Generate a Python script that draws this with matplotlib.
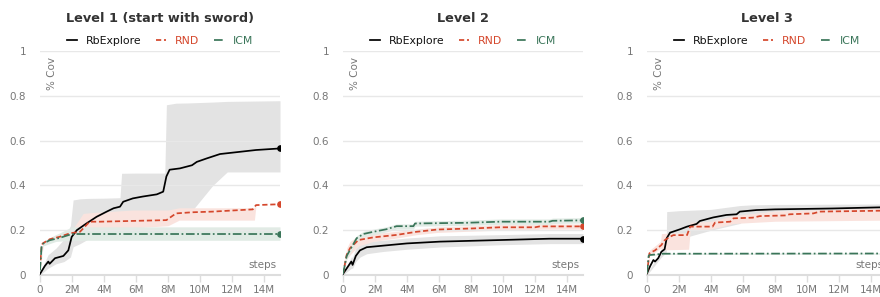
import numpy as np
import matplotlib; matplotlib.use("Agg"); import matplotlib.pyplot as plt
from matplotlib.ticker import FuncFormatter

# ---- data (x in millions of steps, y = fraction covered) ----
TITLES = ["Level 1 (start with sword)", "Level 2", "Level 3"]
XTICKS = [0, 2, 4, 6, 8, 10, 12, 14]
XTICKLABELS = ["0", "2M", "4M", "6M", "8M", "10M", "12M", "14M"]

# Level 1
rb1_x = [0, 0.3, 0.52, 0.6, 0.94, 1.46, 1.77, 1.98, 2.3, 2.9, 3.54, 4.17, 4.6, 5.0, 5.2, 5.8, 6.4, 7.3, 7.7, 7.9, 8.1, 8.75, 9.5, 9.8, 10.4, 11.25, 12.5, 13.5, 15]
rb1_y = [0.005, 0.04, 0.06, 0.05, 0.075, 0.085, 0.11, 0.17, 0.2, 0.23, 0.26, 0.283, 0.298, 0.305, 0.327, 0.342, 0.35, 0.36, 0.372, 0.44, 0.47, 0.476, 0.49, 0.505, 0.52, 0.54, 0.55, 0.558, 0.565]
rb1_bx = [0, 0.5, 1.0, 1.5, 1.9, 2.07, 2.5, 3.0, 4.0, 5.0, 5.1, 6.0, 7.8, 7.9, 8.5, 9.2, 10.0, 10.8, 11.7, 15]
rb1_hi = [0.01, 0.09, 0.12, 0.16, 0.22, 0.335, 0.34, 0.342, 0.343, 0.345, 0.454, 0.455, 0.455, 0.76, 0.767, 0.768, 0.77, 0.772, 0.775, 0.778]
rb1_lo = [0.0, 0.03, 0.05, 0.06, 0.08, 0.126, 0.14, 0.16, 0.19, 0.21, 0.21, 0.22, 0.24, 0.25, 0.255, 0.26, 0.33, 0.40, 0.46, 0.46]

rnd1_x = [0, 0.1, 0.17, 0.62, 1.2, 1.87, 2.5, 3.1, 3.75, 7.9, 8.5, 9.5, 10.8, 13.3, 13.5, 15]
rnd1_y = [0.03, 0.13, 0.141, 0.16, 0.17, 0.186, 0.193, 0.238, 0.238, 0.245, 0.275, 0.28, 0.283, 0.293, 0.312, 0.316]
rnd1_bx = [0, 0.17, 1.0, 2.0, 2.7, 3.5, 5.8, 8.0, 8.7, 13.4, 13.5, 15]
rnd1_hi = [0.03, 0.15, 0.18, 0.2, 0.275, 0.28, 0.29, 0.29, 0.3, 0.3, 0.312, 0.316]
rnd1_lo = [0.03, 0.13, 0.16, 0.175, 0.19, 0.2, 0.21, 0.22, 0.245, 0.245, 0.312, 0.316]

icm1_x = [0, 0.1, 0.2, 0.6, 1.2, 2.0, 15]
icm1_y = [0.02, 0.13, 0.14, 0.155, 0.165, 0.183, 0.183]
icm1_bx = [0, 0.2, 1.0, 2.0, 15]
icm1_hi = [0.02, 0.15, 0.18, 0.215, 0.215]
icm1_lo = [0.02, 0.13, 0.15, 0.155, 0.155]

# Level 2
rb2_x = [0, 0.52, 0.6, 0.8, 1.06, 1.48, 2.5, 4.0, 6.06, 9.8, 12.9, 15]
rb2_y = [0.005, 0.06, 0.045, 0.085, 0.11, 0.124, 0.131, 0.141, 0.149, 0.156, 0.162, 0.162]
rb2_hi = [0.01, 0.08, 0.08, 0.12, 0.14, 0.15, 0.155, 0.165, 0.175, 0.18, 0.185, 0.185]
rb2_lo = [0.0, 0.03, 0.03, 0.06, 0.08, 0.095, 0.105, 0.115, 0.125, 0.135, 0.14, 0.14]

rnd2_x = [0, 0.23, 0.44, 0.96, 1.9, 3.35, 4.6, 5.9, 8.15, 9.8, 12.0, 12.3, 15]
rnd2_y = [0.005, 0.09, 0.12, 0.156, 0.168, 0.179, 0.193, 0.203, 0.208, 0.213, 0.213, 0.217, 0.217]
rnd2_hi = [0.01, 0.12, 0.15, 0.175, 0.185, 0.195, 0.205, 0.215, 0.22, 0.225, 0.225, 0.228, 0.228]
rnd2_lo = [0.0, 0.07, 0.09, 0.13, 0.15, 0.165, 0.18, 0.19, 0.196, 0.2, 0.2, 0.205, 0.205]

icm2_x = [0, 0.23, 0.85, 1.27, 1.9, 2.7, 3.35, 4.4, 4.5, 7.7, 9.8, 12.9, 13.1, 15]
icm2_y = [0.005, 0.085, 0.164, 0.183, 0.193, 0.204, 0.218, 0.218, 0.23, 0.233, 0.238, 0.238, 0.242, 0.244]
icm2_hi = [0.01, 0.1, 0.175, 0.195, 0.205, 0.215, 0.228, 0.228, 0.24, 0.245, 0.25, 0.25, 0.254, 0.256]
icm2_lo = [0.0, 0.07, 0.15, 0.17, 0.18, 0.192, 0.205, 0.205, 0.218, 0.221, 0.226, 0.226, 0.23, 0.232]

# Level 3
rb3_x = [0, 0.2, 0.4, 0.5, 0.7, 0.9, 1.1, 1.23, 1.44, 2.06, 2.5, 3.1, 3.3, 4.14, 4.96, 5.6, 5.8, 6.85, 8.0, 11.6, 14.56, 15]
rb3_y = [0.007, 0.04, 0.067, 0.06, 0.075, 0.104, 0.115, 0.164, 0.189, 0.204, 0.216, 0.228, 0.241, 0.257, 0.268, 0.271, 0.283, 0.29, 0.293, 0.297, 0.302, 0.302]
rb3_bx = [0, 0.9, 1.2, 1.23, 2.0, 4.0, 5.8, 6.5, 8, 15]
rb3_hi = [0.007, 0.11, 0.13, 0.283, 0.287, 0.293, 0.31, 0.313, 0.315, 0.317]
rb3_lo = [0.0, 0.08, 0.1, 0.15, 0.16, 0.2, 0.23, 0.27, 0.285, 0.295]

rnd3_x = [0, 0.15, 0.5, 0.9, 1.1, 1.44, 1.65, 2.5, 2.7, 4.1, 4.25, 5.2, 5.4, 6.6, 7.06, 8.7, 8.9, 10.4, 10.8, 14.56, 15]
rnd3_y = [0.007, 0.097, 0.11, 0.134, 0.155, 0.171, 0.178, 0.178, 0.216, 0.216, 0.234, 0.238, 0.253, 0.256, 0.263, 0.266, 0.271, 0.275, 0.283, 0.287, 0.288]
rnd3_bx = [0, 0.15, 0.85, 0.9, 2.6, 2.7, 4.0, 5.4, 8.0, 15]
rnd3_hi = [0.007, 0.11, 0.15, 0.185, 0.19, 0.235, 0.24, 0.265, 0.285, 0.3]
rnd3_lo = [0.0, 0.085, 0.12, 0.112, 0.115, 0.2, 0.205, 0.23, 0.24, 0.245]

icm3_x = [0, 0.1, 0.15, 1.0, 15]
icm3_y = [0.007, 0.085, 0.089, 0.095, 0.096]
icm3_hi = [0.007, 0.088, 0.092, 0.098, 0.099]
icm3_lo = [0.007, 0.082, 0.086, 0.092, 0.093]

C_RB, C_RND, C_ICM = "#000000", "#d5472c", "#3a7559"
F_RB, F_RND, F_ICM = "#e3e3e3", "#fae3de", "#e1ebe5"

panels = [
    [(rb1_x, rb1_y, rb1_bx, rb1_lo, rb1_hi), (rnd1_x, rnd1_y, rnd1_bx, rnd1_lo, rnd1_hi), (icm1_x, icm1_y, icm1_bx, icm1_lo, icm1_hi)],
    [(rb2_x, rb2_y, rb2_x, rb2_lo, rb2_hi), (rnd2_x, rnd2_y, rnd2_x, rnd2_lo, rnd2_hi), (icm2_x, icm2_y, icm2_x, icm2_lo, icm2_hi)],
    [(rb3_x, rb3_y, rb3_bx, rb3_lo, rb3_hi), (rnd3_x, rnd3_y, rnd3_bx, rnd3_lo, rnd3_hi), (icm3_x, icm3_y, icm3_x, icm3_lo, icm3_hi)],
]
styles = [("RbExplore", C_RB, F_RB, "-"), ("RND", C_RND, F_RND, (0, (3, 1.6))), ("ICM", C_ICM, F_ICM, (0, (5, 1.5, 1, 1.5)))]

fig = plt.figure(figsize=(8.8, 2.97), dpi=100)
lefts = [40 / 880, 343 / 880, 647 / 880]
GRAY = "#777777"
for i, left in enumerate(lefts):
    ax = fig.add_axes([left, 22 / 297, 240 / 880, 224 / 297])
    series = panels[i]
    # bands first
    for (x, y, bx, lo, hi), (name, c, fc, ls) in zip(series, styles):
        ax.fill_between(bx, lo, hi, color=fc, lw=0, zorder=1)
    handles = []
    for (x, y, bx, lo, hi), (name, c, fc, ls) in zip(series, styles):
        h, = ax.plot(x, y, color=c, ls=ls, lw=1.25, zorder=3, label=name)
        ax.plot(x[-1], y[-1], "o", color=c, ms=3.8, zorder=4)
        handles.append(h)
    ax.set_xlim(0, 15); ax.set_ylim(0, 1)
    ax.set_xticks(XTICKS); ax.set_xticklabels(XTICKLABELS)
    ax.set_yticks([0, 0.2, 0.4, 0.6, 0.8, 1.0])
    ax.yaxis.set_major_formatter(FuncFormatter(lambda v, p: "%g" % round(v, 1)))
    ax.grid(axis="y", color="#e8e8e8", lw=1)
    for s in ["top", "right", "left"]:
        ax.spines[s].set_visible(False)
    ax.spines["bottom"].set_color("#dddddd"); ax.spines["bottom"].set_linewidth(1.5)
    ax.tick_params(axis="x", colors="#dddddd", length=5, width=1, labelcolor=GRAY, labelsize=7.5, pad=2.5)
    ax.tick_params(axis="y", length=0, labelcolor=GRAY, labelsize=7.5, pad=10)
    ax.text(0.05, 0.975, "% Cov", transform=ax.transAxes, rotation=90, ha="center", va="top", color=GRAY, fontsize=7.5)
    ax.text(0.985, 0.045, "steps", transform=ax.transAxes, ha="right", va="center", color=GRAY, fontsize=7.5)
    leg = ax.legend(handles=handles, loc="lower center", bbox_to_anchor=(0.5, 1.005), ncol=3, frameon=False,
                    fontsize=7.8, handlelength=0.9, handletextpad=0.8, columnspacing=1.4, borderaxespad=0)
    for t, (name, c, fc, ls) in zip(leg.get_texts(), styles):
        t.set_color(c if name != "RbExplore" else "#111111")
    ax.set_title(TITLES[i], fontsize=9.3, fontweight="bold", color="#333333", pad=21)

fig.savefig("out.png", dpi=100)
